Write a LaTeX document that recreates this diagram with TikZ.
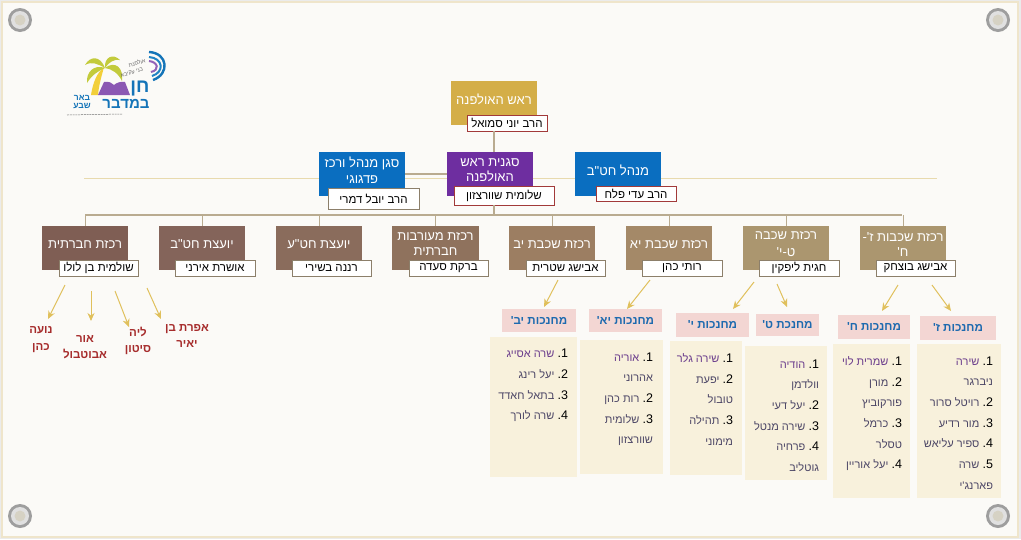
\documentclass[tikz,border=0pt]{standalone}
\usepackage{fontspec}
\usetikzlibrary{arrows.meta}
\TeXXeTstate=1
\newfontfamily\hebfont[Script=Hebrew]{Liberation Sans}
\newcommand{\dg}[1]{{\color{digit}\fontsize{12.5}{20.7}\selectfont #1.}\kern3.2pt}
\definecolor{paper}{HTML}{FBFAF7}
\definecolor{frameC}{HTML}{EFE5CB}
\definecolor{bus}{HTML}{B9AB90}
\definecolor{thinl}{HTML}{E8DAAE}
\definecolor{cHead}{HTML}{D4AE48}
\definecolor{cPurple}{HTML}{6E2EA0}
\definecolor{cBlue}{HTML}{0A6EC0}
\definecolor{cR}{HTML}{A23A3A}
\definecolor{cG}{HTML}{8C7F6A}
\definecolor{pink}{HTML}{F3D6D3}
\definecolor{cream}{HTML}{F8F1DC}
\definecolor{headT}{HTML}{1D6AAF}
\definecolor{listT}{HTML}{6A3C8C}
\definecolor{digit}{HTML}{4C4666}
\definecolor{redN}{HTML}{A62C2C}
\definecolor{gold}{HTML}{E0C05C}
\definecolor{b1}{HTML}{7F5E54}
\definecolor{b2}{HTML}{84645A}
\definecolor{b3}{HTML}{8A6C5C}
\definecolor{b4}{HTML}{8F725D}
\definecolor{b5}{HTML}{9C7E62}
\definecolor{b6}{HTML}{A48968}
\definecolor{b7}{HTML}{AB966F}
\definecolor{frond}{HTML}{C3CB3C}
\definecolor{trunk}{HTML}{F2CF3A}
\definecolor{logoB}{HTML}{1474B8}
\definecolor{screwC}{HTML}{D6D2C4}
\tikzset{
  x=1pt,y=-1pt,
  every node/.style={inner sep=0pt,outer sep=0pt},
  boxn/.style={minimum width=86pt,minimum height=44pt},
  boxt/.style={font=\hebfont\fontsize{13}{15.2}\selectfont,text=white,align=center},
  lblR/.style={draw=cR,line width=.9pt,fill=white,font=\hebfont\fontsize{11.5}{14}\selectfont,text=black},
  lblG/.style={draw=cG,line width=.9pt,fill=white,font=\hebfont\fontsize{11.5}{14}\selectfont,text=black},
  pinkh/.style={fill=pink,font=\hebfont\bfseries\fontsize{11.6}{14}\selectfont,text=headT},
  creamb/.style={fill=cream},
  listt/.style={anchor=north east,align=right,font=\hebfont\fontsize{11}{20.7}\selectfont,text=listT},
  redn/.style={font=\hebfont\bfseries\fontsize{11.5}{16.3}\selectfont,text=redN,align=center,minimum height=34pt},
  arr/.style={draw=gold,line width=1pt,-{Stealth[length=8pt,width=7pt]}},
  busl/.style={draw=bus,line width=2pt},
  drop/.style={draw=bus,line width=1pt}
}
\newcommand{\bx}[7]{% name x y w h colour text
  \node[boxn,minimum width=#4pt,minimum height=#5pt,fill=#6] (#1) at (#2,#3) {};
  \node[boxt] (#1t) at ([yshift=3.8pt]#1.center) {#7};}
\newcommand{\lb}[7]{% name style x0 y0 x1 y1 text
  \node[#2,minimum width=#5pt-#3pt,minimum height=#6pt-#4pt] (#1) at ({(#3+#5)/2},{(#4+#6)/2}) {#7};}
\newcommand{\ph}[6]{% name x0 y0 x1 y1 text
  \node[pinkh,minimum width=#4pt-#2pt,minimum height=#5pt-#3pt] (#1) at ({(#2+#4)/2},{(#3+#5)/2}) {#6};}
\newcommand{\cb}[5]{% name x0 y0 x1 y1
  \node[creamb,minimum width=#4pt-#2pt,minimum height=#5pt-#3pt] (#1) at ({(#2+#4)/2},{(#3+#5)/2}) {};}
\begin{document}
\begin{tikzpicture}
\useasboundingbox (0,0) rectangle (1021,539);
% paper and frame
\fill[white!92!black] (0,0) rectangle (1021,539);
\fill[paper] (1,1) rectangle (1018,537);
\draw[frameC,line width=2pt] (1.5,1.5) rectangle (1017.5,536.5);
% screws
\foreach \n/\sx/\sy in {s1/20/20,s2/998/20,s3/20/516,s4/998/516}{
  \node[circle,minimum size=24pt,fill=black!38] (\n) at (\sx,\sy) {};
  \node[circle,minimum size=18pt,fill=black!12] (\n i) at (\sx,\sy) {};
  \node[circle,minimum size=11pt,fill=screwC] (\n c) at (\sx,\sy) {};
}
% logo
\draw[line width=2.4pt,color=logoB] (149,52) .. controls (168,53) and (170,74) .. (153,80);
\draw[line width=2pt,color=cyan!70!blue!90!black] (149,57) .. controls (163,58) and (165,72) .. (152,76);
\draw[line width=2pt,color=cPurple!75] (149,61) .. controls (158,62) and (160,70) .. (151,72);
\fill[trunk] (91,95) .. controls (93,82) and (97,73) .. (104,67) .. controls (102,75) and (99,84) .. (98,95) -- cycle;
\fill[frond] (105,68) .. controls (100,55) and (90,56) .. (85,65) .. controls (92,61) and (98,64) .. (105,68) -- cycle;
\fill[frond] (105,68) .. controls (104,57) and (113,53) .. (120,60) .. controls (114,59) and (109,62) .. (105,68) -- cycle;
\fill[frond] (105,68) .. controls (115,60) and (124,68) .. (122,81) .. controls (118,73) and (112,69) .. (105,68) -- cycle;
\fill[frond] (105,68) .. controls (94,64) and (86,72) .. (87,83) .. controls (92,75) and (98,71) .. (105,68) -- cycle;
\fill[cPurple!80] (98,95) -- (104,82) .. controls (109,81) and (112,83) .. (114,85) .. controls (116,83) and (121,81) .. (125,82) -- (130,95) -- cycle;
\node[font=\hebfont\fontsize{5.5}{6}\selectfont,text=black!60,rotate=15] (lg1) at (137,63) {\beginR אולפנת\endR};
\node[font=\hebfont\fontsize{5.5}{6}\selectfont,text=black!60,rotate=15] (lg2) at (132,73) {\beginR בני עקיבא\endR};
\node[font=\hebfont\bfseries\fontsize{19}{20}\selectfont,text=logoB] (lg3) at (140,89) {\beginR חן\endR};
\node[font=\hebfont\bfseries\fontsize{15}{15}\selectfont,text=logoB] (lg4) at (126,104) {\beginR במדבר\endR};
\node[font=\hebfont\bfseries\fontsize{8.5}{8}\selectfont,text=logoB] (lg5) at (82,98) {\beginR באר\endR};
\node[font=\hebfont\bfseries\fontsize{8.5}{8}\selectfont,text=logoB] (lg6) at (82,106) {\beginR שבע\endR};
\draw[black!55,line width=.5pt,dash pattern=on 2pt off .8pt] (67,115) -- (122,114);
% thin horizontal behind the second row
\coordinate (thinL) at (84,178);
\coordinate (thinR) at (937,178);
\draw[thinl,line width=1pt] (thinL) -- (thinR);
% boxes
\bx{head}{494}{103}{86}{44}{cHead}{\beginR ראש האולפנה\endR}
\bx{dep}{490}{174}{86}{44}{cPurple}{\beginR סגנית ראש\endR\\\beginR האולפנה\endR}
\bx{ped}{362}{174}{86}{44}{cBlue}{\beginR סגן מנהל ורכז\endR\\\beginR פדגוגי\endR}
\bx{mgr}{618}{174}{86}{44}{cBlue}{\beginR מנהל חט"ב\endR}
\bx{r1}{85}{248}{86}{44}{b1}{\beginR רכזת חברתית\endR}
\bx{r2}{202}{248}{86}{44}{b2}{\beginR יועצת חט"ב\endR}
\bx{r3}{319}{248}{86}{44}{b3}{\beginR יועצת חט"ע\endR}
\bx{r4}{435.5}{248}{87}{44}{b4}{\beginR רכזת מעורבות\endR\\\beginR חברתית\endR}
\bx{r5}{552}{248}{86}{44}{b5}{\beginR רכזת שכבת יב\endR}
\bx{r6}{669}{248}{86}{44}{b6}{\beginR רכזת שכבת יא\endR}
\bx{r7}{786}{248}{86}{44}{b7}{\beginR רכזת שכבה\endR\\[2pt]\beginR ט-י'\endR}
\bx{r8}{903}{248}{86}{44}{b7}{\beginR רכזת שכבות ז'-\endR\\\beginR ח'\endR}
% labels
\lb{headL}{lblR}{467}{115}{547}{131}{\beginR הרב יוני סמואל\endR}
\lb{depL}{lblR}{454}{186}{554}{205}{\beginR שלומית שוורצזון\endR}
\lb{pedL}{lblG}{328}{188}{419}{209}{\beginR הרב יובל דמרי\endR}
\lb{mgrL}{lblR}{596}{186}{676}{201}{\beginR הרב עדי פלח\endR}
\lb{l1}{lblG}{59}{260}{138}{276}{\beginR שולמית בן לולו\endR}
\lb{l2}{lblG}{175}{260}{255}{276}{\beginR אושרת אירני\endR}
\lb{l3}{lblG}{292}{260}{371}{276}{\beginR רננה בשירי\endR}
\lb{l4}{lblG}{409}{260}{488}{276}{\beginR ברקת סעדה\endR}
\lb{l5}{lblG}{526}{260}{605}{276}{\beginR אבישג שטרית\endR}
\lb{l6}{lblG}{642}{260}{722}{276}{\beginR רותי כהן\endR}
\lb{l7}{lblG}{759}{260}{839}{276}{\beginR חגית ליפקין\endR}
\lb{l8}{lblG}{876}{260}{955}{276}{\beginR אבישג בוצחק\endR}
% connectors
\coordinate (busL) at (85,215);
\coordinate (busR) at (902,215);
\coordinate (spine) at (494,215);
\draw[busl] (busL) -- (busR);
\draw[busl] (headL.south -| spine) -- (dep.north -| spine);
\draw[busl] (depL.south -| spine) -- (spine);
\draw[busl] (ped.east) -- (dep.west);
\foreach \r in {r1,r2,r3,r4,r5,r6,r7,r8}{ \draw[drop] (\r.north) -- (\r.north |- busL); }
% pink headers
\ph{p12}{502}{309}{576}{332}{\beginR מחנכות יב'\endR}
\ph{p11}{589}{309}{662}{332}{\beginR מחנכות יא'\endR}
\ph{p10}{676}{313}{749}{337}{\beginR מחנכות י'\endR}
\ph{p9}{756}{314}{819}{336}{\beginR מחנכת ט'\endR}
\ph{p8}{838}{315}{910}{339}{\beginR מחנכות ח'\endR}
\ph{p7}{920}{316}{996}{340}{\beginR מחנכות ז'\endR}
% cream panels
\cb{c12}{490}{337}{577}{477}
\cb{c11}{580}{340}{663}{474}
\cb{c10}{670}{341}{742}{475}
\cb{c9}{745}{346}{827}{480}
\cb{c8}{833}{344}{910}{498}
\cb{c7}{917}{344}{1001}{498}
% lists
\node[listt] (t12) at (568,349) {\beginR\dg{1}שרה אסייג\endR\\\beginR\dg{2}יעל רינג\endR\\\beginR\dg{3}בתאל חאדד\endR\\\beginR\dg{4}שרה לורך\endR};
\node[listt] (t11) at (653,352.5) {\beginR\dg{1}אוריה\endR\\\beginR אהרוני\endR\\\beginR\dg{2}רות כהן\endR\\\beginR\dg{3}שלומית\endR\\\beginR שוורצזון\endR};
\node[listt] (t10) at (733,353.5) {\beginR\dg{1}שירה גלר\endR\\\beginR\dg{2}יפעת\endR\\\beginR טובול\endR\\\beginR\dg{3}תהילה\endR\\\beginR מימוני\endR};
\node[listt] (t9) at (819,359.5) {\beginR\dg{1}הודיה\endR\\\beginR וולדמן\endR\\\beginR\dg{2}יעל דעי\endR\\\beginR\dg{3}שירה מנטל\endR\\\beginR\dg{4}פרחיה\endR\\\beginR גוטליב\endR};
\node[listt] (t8) at (902,356.5) {\beginR\dg{1}שמרית לוי\endR\\\beginR\dg{2}מורן\endR\\\beginR פורקוביץ\endR\\\beginR\dg{3}כרמל\endR\\\beginR טסלר\endR\\\beginR\dg{4}יעל אוריין\endR};
\node[listt] (t7) at (993,356.5) {\beginR\dg{1}שירה\endR\\\beginR ניברגר\endR\\\beginR\dg{2}רויטל סרור\endR\\\beginR\dg{3}מור רדיע\endR\\\beginR\dg{4}ספיר עליאש\endR\\\beginR\dg{5}שרה\endR\\\beginR פארנג'י\endR};
% red names
\node[redn] (n1) at (41,339.5) {\beginR נועה\endR\\\beginR כהן\endR};
\node[redn] (n2) at (85,347) {\beginR אור\endR\\\beginR אבוטבול\endR};
\node[redn] (n3) at (138,341) {\beginR ליה\endR\\\beginR סיטון\endR};
\node[redn] (n4) at (187,336) {\beginR אפרת בן\endR\\\beginR יאיר\endR};
% arrows
\draw[arr] ([xshift=-33.5pt,yshift=-9pt]l1.south) -- ([xshift=7pt,yshift=3.5pt]n1.north);
\draw[arr] ([xshift=-7.5pt,yshift=-15pt]l1.south) -- ([xshift=6pt,yshift=9pt]n2.north);
\draw[arr] ([xshift=16.5pt,yshift=-15pt]l1.south) -- ([xshift=-9pt,yshift=-3pt]n3.north);
\draw[arr] ([xshift=48.5pt,yshift=-12pt]l1.south) -- ([xshift=-26pt,yshift=-0pt]n4.north);
\draw[arr] ([xshift=-7.5pt,yshift=-4pt]l5.south) -- ([xshift=5pt,yshift=2pt]p12.north);
\draw[arr] ([xshift=-32pt,yshift=-4pt]l6.south) -- ([xshift=1.5pt,yshift=0pt]p11.north);
\draw[arr] ([xshift=-45pt,yshift=-6pt]l7.south) -- ([xshift=20.5pt,yshift=4pt]p10.north);
\draw[arr] ([xshift=-22pt,yshift=-8pt]l7.south) -- ([xshift=-0.5pt,yshift=7pt]p9.north);
\draw[arr] ([xshift=-17.5pt,yshift=-9pt]l8.south) -- ([xshift=8pt,yshift=4pt]p8.north);
\draw[arr] ([xshift=16.5pt,yshift=-9pt]l8.south) -- ([xshift=-7pt,yshift=5pt]p7.north);
\end{tikzpicture}
\end{document}
